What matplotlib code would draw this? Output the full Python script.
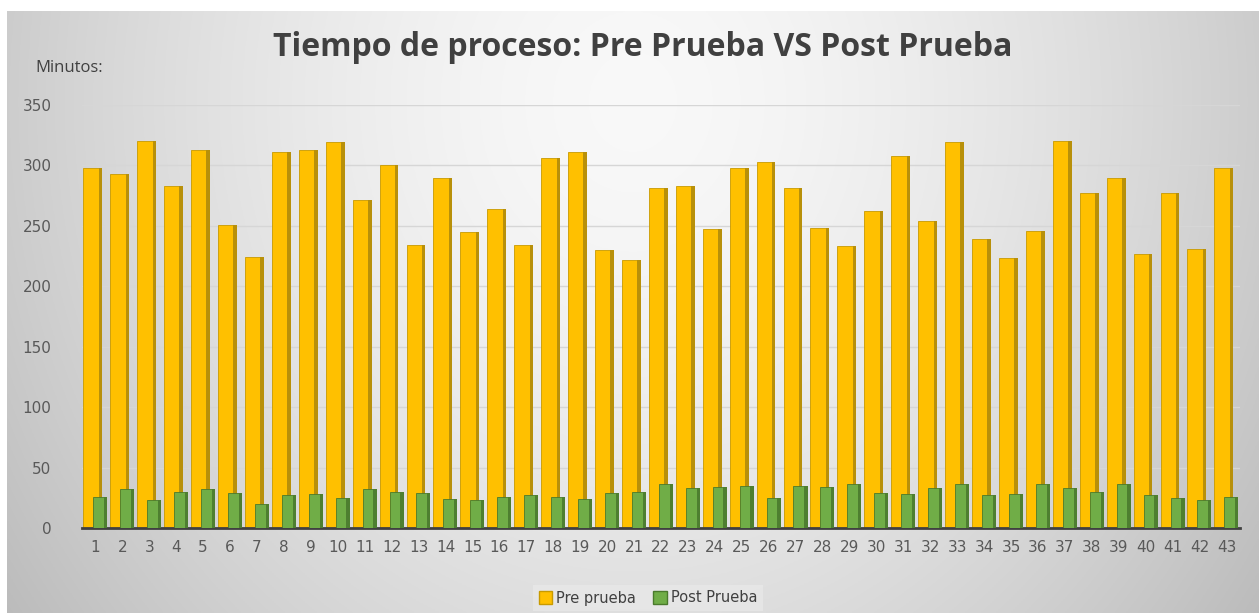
import numpy as np
import matplotlib.pyplot as plt
from matplotlib.patches import Rectangle

# datos (minutos)
casos = list(range(1, 44))
pre_prueba = [298, 293, 320, 283, 313, 251, 224, 311, 313, 319,
              271, 300, 234, 290, 245, 264, 234, 306, 311, 230,
              222, 281, 283, 247, 298, 303, 281, 248, 233, 262,
              308, 254, 319, 239, 223, 246, 320, 277, 290, 227,
              277, 231, 298]
post_prueba = [26, 32, 23, 30, 32, 29, 20, 27, 28, 25,
               32, 30, 29, 24, 23, 26, 27, 26, 24, 29,
               30, 36, 33, 34, 35, 25, 35, 34, 36, 29,
               28, 33, 36, 27, 28, 36, 33, 30, 36, 27,
               25, 23, 26]

fig = plt.figure(figsize=(12.59, 6.13), dpi=100)
fig.patch.set_facecolor('white')

# fondo con degradado gris (claro arriba al centro, mas oscuro en los bordes)
bg = fig.add_axes([7 / 1259, 0, 1 - 7 / 1259, 1 - 11 / 613])
yy, xx = np.mgrid[0:1:300j, 0:1:600j]
r = np.sqrt(((xx - 0.5) / 0.55) ** 2 + ((yy - 0.15) / 1.3) ** 2)
val = 0.975 - 0.2 * np.clip(r, 0, 1.2) ** 1.6
bg.imshow(np.dstack([val, val, val]), aspect='auto', extent=[0, 1, 0, 1], origin='upper')
bg.axis('off')

ax = fig.add_axes([82 / 1259, 1 - 528 / 613, 1158 / 1259, 423 / 613])
ax.set_facecolor('none')
x = np.array(casos)

# columnas "3D": cara frontal + cara lateral oscura
ax.bar(x - 0.165, pre_prueba, 0.57, color='#FFC000', edgecolor='#C89A00', linewidth=0.6, zorder=2)
ax.bar(x + 0.185, pre_prueba, 0.13, color='#B8900A', linewidth=0, zorder=2)
ax.bar(x + 0.12, post_prueba, 0.4, color='#70AD47', edgecolor='#4A7A2C', linewidth=0.6, zorder=3)
ax.bar(x + 0.38, post_prueba, 0.12, color='#4E7F30', linewidth=0, zorder=3)

ax.set_xlim(0.5, 43.5)
ax.set_ylim(0, 350)
ax.set_yticks(range(0, 351, 50))
ax.set_xticks(x)
ax.set_xticklabels([str(c) for c in casos])
ax.yaxis.grid(True, color='#D6D6D6', linewidth=1)
ax.set_axisbelow(True)
for s in ['top', 'right', 'left']:
    ax.spines[s].set_visible(False)
ax.spines['bottom'].set_color('#404040')
ax.spines['bottom'].set_linewidth(2)
ax.tick_params(axis='both', length=0, labelsize=11, colors='#595959')
ax.tick_params(axis='x', pad=9)
ax.tick_params(axis='y', pad=22)

fig.text(643 / 1259, 1 - 47 / 613, 'Tiempo de proceso: Pre Prueba VS Post Prueba',
         ha='center', va='center', fontsize=23, fontweight='bold',
         color='#404040', family='Open Sans')
fig.text(35 / 1259, 1 - 68 / 613, 'Minutos:', ha='left', va='center',
         fontsize=12, color='#404040', family='Open Sans')

handles = [Rectangle((0, 0), 1, 1, facecolor='#FFC000', edgecolor='#C89A00'),
           Rectangle((0, 0), 1, 1, facecolor='#70AD47', edgecolor='#4A7A2C')]
leg = fig.legend(handles, ['Pre prueba', 'Post Prueba'], loc='center',
                 bbox_to_anchor=(648 / 1259, 1 - 598 / 613), ncol=2, frameon=True,
                 fontsize=10.5, handlelength=0.9, handleheight=0.9, handletextpad=0.3,
                 columnspacing=1.2, borderpad=0.4, fancybox=False)
leg.get_frame().set_facecolor('#E8E8E8')
leg.get_frame().set_edgecolor('none')
for t in leg.get_texts():
    t.set_color('#404040')

fig.savefig('out.png', dpi=100)
